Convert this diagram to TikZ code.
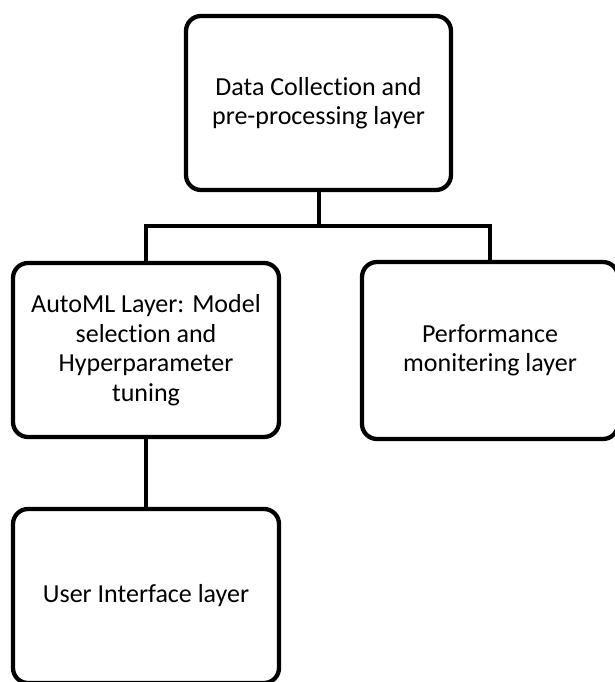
\documentclass[tikz,border=0pt]{standalone}
\usepackage{fontspec}
\setmainfont{Carlito}[Ligatures=NoCommon]

\begin{document}
\begin{tikzpicture}[x=1pt,y=-1pt,
    layer/.style={draw, line width=4.3pt, rounded corners=15pt, align=center, inner sep=0pt,
      minimum width=266pt, minimum height=174pt, font=\fontsize{26}{29.5}\selectfont},
    link/.style={line width=4pt}]
      \useasboundingbox (0,0) rectangle (615,682);
      \node[layer, minimum width=265pt] (data) at (318.5,103) {Data Collection and\\pre-processing layer};
      \node[layer] (automl) at (146,350) {AutoML Layer: Model\\selection and\\Hyperparameter\\tuning};
      \node[layer, minimum width=256pt, minimum height=177pt] (perf) at (490,350.5) {Performance\\monitering layer};
      \node[layer] (ui) at (146,596) {User Interface layer};
      \coordinate (bus) at (318.5,226);
      \draw[link] (data.south) -- (bus);
      \draw[link] (automl.north) |- (bus) -| (perf.north);
      \draw[link] (automl.south) -- (ui.north);
    \end{tikzpicture}
\end{document}
